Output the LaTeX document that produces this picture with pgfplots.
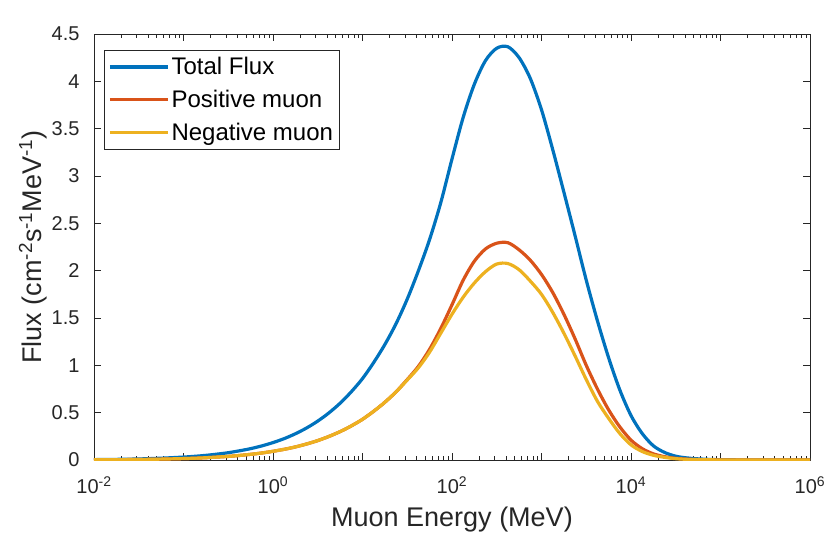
\documentclass[border=0pt]{standalone}
\usepackage{fontspec}
\setmainfont{Liberation Sans}
\usepackage{pgfplots}
\usepackage{pgfplotstable}
\pgfplotsset{compat=1.18}
\usetikzlibrary{calc}

\definecolor{mblue}{rgb}{0,0.447,0.741}
\definecolor{morange}{rgb}{0.85,0.325,0.098}
\definecolor{myellow}{rgb}{0.929,0.694,0.125}
\definecolor{axgray}{rgb}{0.15,0.15,0.15}

% energy (MeV), flux in units of 1e-6 cm^-2 s^-1 MeV^-1
\pgfplotstableread{
E        total   pos     neg
0.01     0.004   0.002   0.002
0.01778  0.0067  0.0033  0.0033
0.03162  0.011   0.0055  0.0055
0.05623  0.019   0.0094  0.0094
0.1      0.031   0.015   0.015
0.1334   0.039   0.019   0.019
0.1778   0.049   0.024   0.024
0.2371   0.062   0.031   0.031
0.3162   0.077   0.038   0.038
0.4217   0.097   0.048   0.048
0.5623   0.120   0.060   0.060
0.7499   0.149   0.074   0.074
1        0.184   0.092   0.092
1.334    0.226   0.113   0.113
1.778    0.277   0.138   0.138
2.371    0.338   0.169   0.169
3.162    0.411   0.205   0.205
4.217    0.498   0.249   0.249
5.623    0.600   0.300   0.300
7.499    0.721   0.360   0.360
10       0.860   0.430   0.430
13.34    1.03    0.515   0.515
17.78    1.22    0.61    0.61
23.71    1.44    0.72    0.72
31.62    1.70    0.85    0.845
42.17    2.00    0.99    0.975
56.23    2.33    1.17    1.14
74.99    2.72    1.39    1.34
100      3.18    1.64    1.54
133.4    3.62    1.90    1.72
177.8    3.97    2.10    1.87
237.1    4.22    2.23    1.99
316.2    4.35    2.29    2.07
421.7    4.365   2.295   2.075
562.3    4.25    2.22    2.01
749.9    4.03    2.11    1.89
1000     3.70    1.96    1.75
1334     3.28    1.77    1.56
1778     2.83    1.54    1.34
2371     2.37    1.28    1.10
3162     1.90    1.00    0.85
4217     1.47    0.75    0.62
5623     1.08    0.53    0.44
7499     0.74    0.35    0.28
10000    0.47    0.21    0.16
13335    0.28    0.12    0.09
17783    0.15    0.065   0.05
23714    0.08    0.035   0.028
31623    0.04    0.018   0.014
42170    0.022   0.009   0.007
56234    0.012   0.005   0.004
100000   0.003   0.001   0.001
316228   0.0005  0       0
1000000  0       0       0
}\flux

\begin{document}
\begin{tikzpicture}
\begin{axis}[
  scale only axis,
  width=716pt, height=426pt,
  xmode=log,
  xmin=1e-2, xmax=1e6,
  ymin=0, ymax=4.5,
  xtick={1e-2,1e-1,1,1e1,1e2,1e3,1e4,1e5,1e6},
  xticklabels={10\textsuperscript{-2},,10\textsuperscript{0},,10\textsuperscript{2},,10\textsuperscript{4},,10\textsuperscript{6}},
  ytick={0,0.5,1,1.5,2,2.5,3,3.5,4,4.5},
  yticklabels={0,0.5,1,1.5,2,2.5,3,3.5,4,4.5},
  tick align=inside,
  major tick length=7pt,
  minor tick length=4pt,
  every tick/.style={axgray, line width=0.6pt},
  axis line style={axgray, line width=0.9pt},
  tick label style={font=\fontsize{20}{24}\selectfont, text=axgray},
  xticklabel style={yshift=-13pt},
  yticklabel style={xshift=-11pt},
  xlabel={Muon Energy (MeV)},
  ylabel={Flux (cm\textsuperscript{-2}s\textsuperscript{-1}MeV\textsuperscript{-1})},
  label style={font=\fontsize{27}{32}\selectfont, text=axgray},
  xlabel style={yshift=-6pt},
  ylabel style={yshift=-2pt},
  legend style={at={(rel axis cs:0.014,0.962)}, anchor=north west,
    font=\fontsize{24}{28}\selectfont, draw=axgray, line width=0.7pt,
    inner xsep=4pt, inner ysep=5pt, row sep=10pt},
  legend cell align=left,
  legend image code/.code={\draw[#1, line width=3.2pt] (0pt,0pt) -- (58pt,0pt);},
]
\addplot[mblue, line width=3.2pt, smooth] table[x=E, y=total] {\flux};
\addplot[morange, line width=3.2pt, smooth] table[x=E, y=pos] {\flux};
\addplot[myellow, line width=3.2pt, smooth] table[x=E, y=neg] {\flux};
\legend{Total Flux, Positive muon, Negative muon}
\node[anchor=south west, inner sep=0pt, text=axgray, font=\fontsize{18}{20}\selectfont]
  at (rel axis cs:0,1) [yshift=9pt, xshift=-2pt] {$\times$10\textsuperscript{-6}};
\end{axis}
\pgfresetboundingbox
\path ($(current axis.south west)+(-94pt,-78pt)$) rectangle ++(832pt,538pt);
\end{tikzpicture}
\end{document}
